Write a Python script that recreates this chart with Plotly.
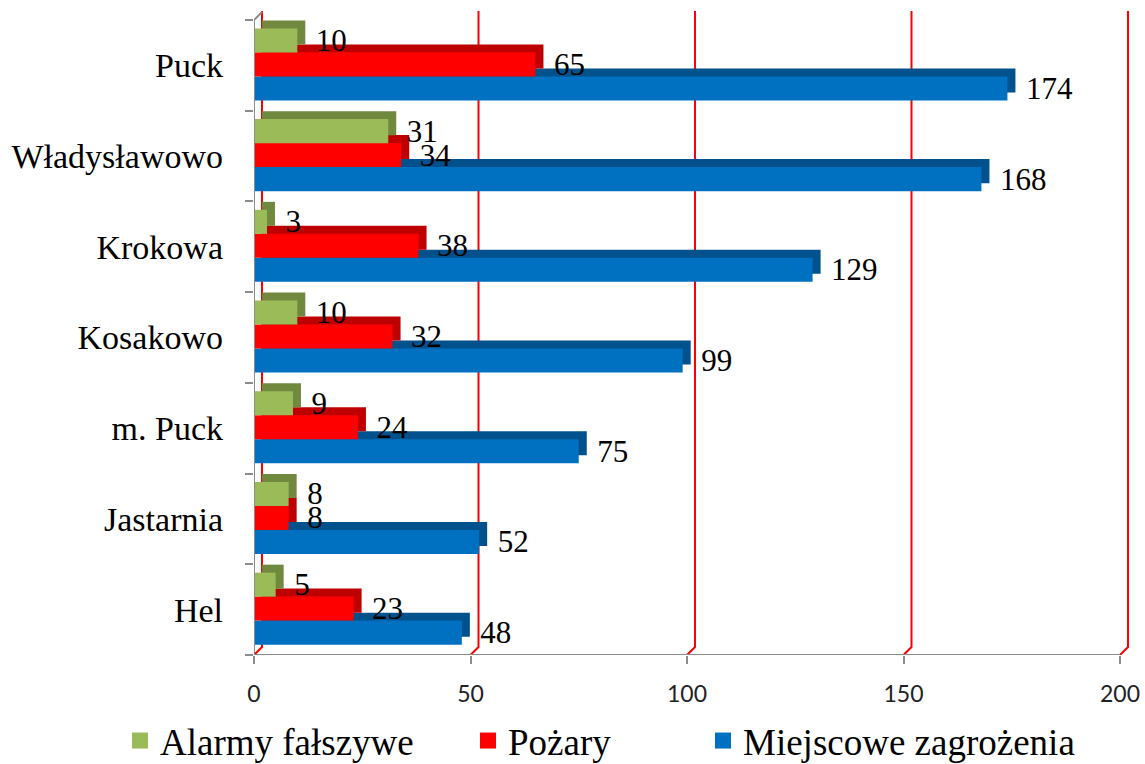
import plotly.graph_objects as go

categories = ["Hel", "Jastarnia", "m. Puck", "Kosakowo", "Krokowa", "Władysławowo", "Puck"]
alarmy = [5, 8, 9, 10, 3, 31, 10]
pozary = [23, 8, 24, 32, 38, 34, 65]
miejscowe = [48, 52, 75, 99, 129, 168, 174]
series_names = ["Alarmy fałszywe", "Pożary", "Miejscowe zagrożenia"]
x_ticks = [0, 50, 100, 150, 200]

# style
C_GREEN, C_GREEN_D = "#9BBB59", "#71893F"
C_RED, C_RED_D = "#FF0000", "#BF0000"
C_BLUE, C_BLUE_D = "#0070C0", "#00518C"
SERIF = "Liberation Serif"
W = 0.265
DX = 1.85   # 3D depth along value axis (approx 8px)
DY = 0.088  # 3D depth along category axis (approx 8px)
NBSP = "\u00a0\u00a0"

FIG_W, FIG_H = 1145, 764

fig = go.Figure()

series = [
    (miejscowe, C_BLUE, C_BLUE_D, -0.386),
    (pozary, C_RED, C_RED_D, -0.121),
    (alarmy, C_GREEN, C_GREEN_D, 0.143),
]
for vals, c, cd, off in series:
    # depth face (top + side)
    fig.add_trace(go.Bar(
        y=categories, x=vals, base=DX, orientation="h", width=W, offset=off + DY,
        marker=dict(color=cd, line=dict(width=0)), showlegend=False, hoverinfo="skip",
    ))
    # front face
    fig.add_trace(go.Bar(
        y=categories, x=vals, orientation="h", width=W, offset=off,
        marker=dict(color=c, line=dict(width=0)), showlegend=False,
        text=[NBSP + str(v) for v in vals], textposition="outside",
        textfont=dict(family=SERIF, size=31, color="black"),
        constraintext="none", cliponaxis=False,
    ))

# legend entries (separate legends for Excel-like spacing)
legend_colors = [C_GREEN, C_RED, C_BLUE]
legend_ids = ["legend", "legend2", "legend3"]
for name, col, lid in zip(series_names, legend_colors, legend_ids):
    fig.add_trace(go.Scatter(
        x=[None], y=[None], mode="markers", name=name,
        marker=dict(symbol="square", size=18, color=col),
        showlegend=True, legend=lid,
    ))

shapes = []
# red gridlines with 3D offset
for v in x_ticks:
    shapes.append(dict(
        type="path", xref="x", yref="y",
        xsizemode="pixel", xanchor=v, ysizemode="pixel", yanchor=-0.5,
        path="M0,0 L8,8 L8,644", line=dict(color="#FF0000", width=2), layer="below",
    ))
# floor line (x axis)
shapes.append(dict(type="line", xref="x", yref="y", x0=0, x1=200, y0=-0.5, y1=-0.5,
                   line=dict(color="#8C8C8C", width=2), layer="above"))
# left wall line (y axis)
shapes.append(dict(type="line", xref="x", yref="y", x0=0, x1=0, y0=-0.5, y1=6.5,
                   line=dict(color="#8C8C8C", width=2), layer="above"))
shapes.append(dict(type="line", xref="x", yref="y",
                   xsizemode="pixel", xanchor=0, x0=0, x1=8,
                   ysizemode="pixel", yanchor=6.5, y0=0, y1=8,
                   line=dict(color="#8C8C8C", width=2), layer="above"))

leg_common = dict(orientation="h", xref="container", yref="container", yanchor="middle",
                  y=1 - 741 / FIG_H, xanchor="left", bgcolor="rgba(0,0,0,0)",
                  font=dict(family=SERIF, size=37, color="black"), itemwidth=30)
fig.update_layout(
    width=FIG_W, height=FIG_H,
    margin=dict(l=254, r=12, t=11, b=109, autoexpand=False),
    paper_bgcolor="white", plot_bgcolor="white",
    barmode="overlay",
    showlegend=True,
    legend=dict(x=120 / FIG_W, **leg_common),
    legend2=dict(x=468 / FIG_W, **leg_common),
    legend3=dict(x=703 / FIG_W, **leg_common),
    shapes=shapes,
    xaxis=dict(range=[0, 203], tickvals=x_ticks, showgrid=False, zeroline=False,
               showline=False, ticks="outside", ticklen=8, tickwidth=2, tickcolor="#8C8C8C",
               tickfont=dict(family="Lato", size=23, color="#222222"), ticklabelstandoff=10,
               automargin=False),
    yaxis=dict(type="category", categoryorder="array", categoryarray=categories,
               range=[-0.5, 6.6], showgrid=False, zeroline=False, showline=False,
               tickson="boundaries", ticks="outside", ticklen=8, tickwidth=2, tickcolor="#8C8C8C",
               tickfont=dict(family=SERIF, size=34, color="black"), ticklabelstandoff=30,
               automargin=False),
)

fig.write_html("out.html",
               config={"displayModeBar": False},
               post_script="document.body.style.margin='0';document.body.style.overflow='hidden';")
